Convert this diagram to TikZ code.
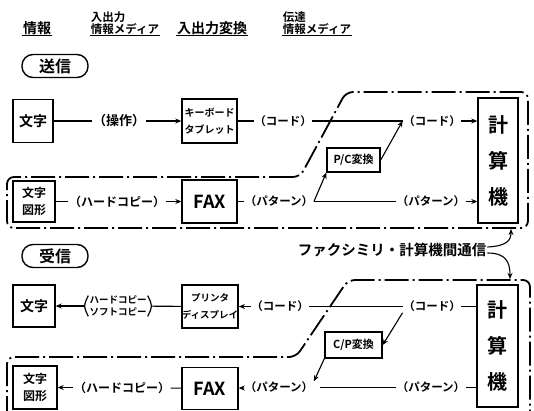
\documentclass[tikz,border=0pt]{standalone}
\usepackage{fontspec}
\setmainfont{Noto Sans CJK JP}[BoldFont={Noto Sans CJK JP Bold}]
\usetikzlibrary{arrows.meta}
\newcommand{\fs}[1]{\bfseries\fontsize{#1}{#1}\selectfont}
\begin{document}
\begin{tikzpicture}[x=1pt,y=-1pt,
  every node/.style={font=\bfseries},
  box/.style={draw, line width=1.4pt, inner sep=0pt, align=center},
  lbl/.style={inner sep=0.5pt, font=\fs{11.5}},
  conn/.style={line width=1.1pt},
  arr/.style={conn, -{Stealth[length=6pt,width=5pt]}},
  region/.style={line width=1.8pt, dash pattern=on 24pt off 4pt on 2pt off 4pt, rounded corners=7pt},
  head/.style={inner sep=1pt, align=left},
  ul/.style={line width=1.2pt},
  badge/.style={draw, line width=1.4pt, rounded corners=11pt, minimum width=66pt, minimum height=23pt, font=\fs{16}}
]
\useasboundingbox (0,0) rectangle (534,411);

% headers
\node[head, font=\fs{14}] (h1) at (37,28) {情報};
\draw[ul] (h1.south west) -- (h1.south east);
\node[head, font=\bfseries\fontsize{11.5}{12}\selectfont] (h2) at (125,23) {入出力\\情報メディア};
\draw[ul] (h2.south west) -- (h2.south east);
\node[head, font=\fs{14}] (h3) at (212,28) {入出力変換};
\draw[ul] (h3.south west) -- (h3.south east);
\node[head, font=\bfseries\fontsize{11.5}{12}\selectfont] (h4) at (317,23) {伝達\\情報メディア};
\draw[ul] (h4.south west) -- (h4.south east);

% regions
\draw[region] (300,177) -- (7,177) -- (7,228) -- (528,228) -- (528,92) -- (346,92) -- cycle;
\draw[region] (7,420) -- (7,357) -- (296,357) -- (348,280) -- (530,280) -- (530,420);

% send
\node[badge] (send) at (55,66) {送信};
\node[box, minimum width=40pt, minimum height=43pt, font=\fs{14}] (moji1) at (33,121) {文字};
\node[lbl, font=\fs{13}] (sousa) at (119,121) {（操作）};
\node[box, minimum width=55pt, minimum height=44pt, font=\bfseries\fontsize{10}{17}\selectfont] (kb) at (209.5,121) {キーボード\\タブレット};
\node[lbl] (code1) at (283,121) {（コード）};
\node[lbl] (code2) at (432,121) {（コード）};
\node[box, minimum width=40pt, minimum height=125pt, font=\bfseries\fontsize{20}{36}\selectfont] (comp1) at (498,160.5) {計\\算\\機};
\node[box, minimum width=53pt, minimum height=24pt, font=\fs{11}] (pc) at (353.5,160) {P/C変換};

\node[box, minimum width=42pt, minimum height=41pt, font=\bfseries\fontsize{12}{17}\selectfont] (mz1) at (34,201.5) {文字\\図形};
\node[lbl, font=\fs{12}] (hard1) at (117,201.5) {（ハードコピー）};
\node[box, minimum width=55pt, minimum height=43pt, font=\fs{18}] (fax1) at (209.5,201.5) {FAX};
\node[lbl] (pat1) at (279,201.5) {（パターン）};
\node[lbl] (pat2) at (431,201.5) {（パターン）};

\draw[conn] (moji1) -- (sousa);
\draw[arr] (sousa) -- (kb);
\draw[conn] (kb) -- (code1);
\draw[conn] (code1) -- (code2);
\draw[arr] (code2.east) -- (code2.east -| comp1.west);
\draw[conn] (mz1) -- (hard1);
\draw[arr] (hard1) -- (fax1);
\draw[conn] (fax1) -- (pat1);
\draw[conn] (pat1) -- (pat2);
\draw[arr] (pat2.east) -- (pat2.east -| comp1.west);
\draw[arr] (pat1.east) -- (pc.south west);
\draw[arr] (pc.east) -- (code2.west);

% label between
\node[font=\fs{14.5}, inner sep=1pt] (lab) at (392,250) {ファクシミリ・計算機間通信};
\coordinate (upTip) at (511,229);
\coordinate (dnTip) at (510,279);
\draw[arr] ([yshift=3pt]lab.east) .. controls (506,246) and (511,241) .. (upTip);
\draw[arr] ([yshift=-3pt]lab.east) .. controls (506,253) and (510,262) .. (dnTip);

% receive
\node[badge] (recv) at (55,256) {受信};
\node[box, minimum width=42pt, minimum height=42pt, font=\fs{14}] (moji2) at (34,306) {文字};
\node[inner sep=0pt, inner xsep=5pt, align=center, font=\bfseries\fontsize{9.5}{12}\selectfont] (hs) at (118,306) {ハードコピー\\ソフトコピー};
\draw[line width=1.2pt] ([xshift=4pt]hs.north west) .. controls ([xshift=-1pt]hs.west) and ([xshift=-1pt]hs.west) .. ([xshift=4pt]hs.south west);
\draw[line width=1.2pt] ([xshift=-4pt]hs.north east) .. controls ([xshift=1pt]hs.east) and ([xshift=1pt]hs.east) .. ([xshift=-4pt]hs.south east);
\node[box, minimum width=56pt, minimum height=43pt, font=\bfseries\fontsize{9.5}{17}\selectfont] (pd) at (210,306.5) {プリンタ\\ディスプレイ};
\node[lbl] (code3) at (280,306.5) {（コード）};
\node[lbl] (code4) at (432,306.5) {（コード）};
\node[box, minimum width=41pt, minimum height=122pt, font=\bfseries\fontsize{20}{36}\selectfont] (comp2) at (497.5,346) {計\\算\\機};
\node[box, minimum width=57pt, minimum height=26pt, font=\fs{11}] (cp) at (353.5,345) {C/P変換};

\node[box, minimum width=44pt, minimum height=43pt, font=\bfseries\fontsize{12}{17}\selectfont] (mz2) at (35,387.5) {文字\\図形};
\node[lbl, font=\fs{12}] (hard2) at (122,387.5) {（ハードコピー）};
\node[box, minimum width=56pt, minimum height=42pt, font=\fs{18}] (fax2) at (210,388.5) {FAX};
\node[lbl] (pat3) at (279,387.5) {（パターン）};
\node[lbl] (pat4) at (431,387.5) {（パターン）};

\draw[arr] (hs) -- (moji2);
\draw[conn] (pd) -- (hs);
\draw[arr] (code3) -- (pd);
\draw[conn] (code4) -- (code3);
\draw[conn] (code4.east) -- (code4.east -| comp2.west);
\draw[arr] (code4.south west) -- (cp.east);
\draw[arr] (cp.south west) -- (pat3.north east);

\draw[arr] (pat3) -- (fax2);
\draw[conn] (fax2) -- (hard2);
\draw[arr] (hard2) -- (mz2);
\draw[conn, shorten >=6pt] (pat4) -- (pat3);
\draw[conn] (pat4.east) -- (pat4.east -| comp2.west);
\end{tikzpicture}
\end{document}
